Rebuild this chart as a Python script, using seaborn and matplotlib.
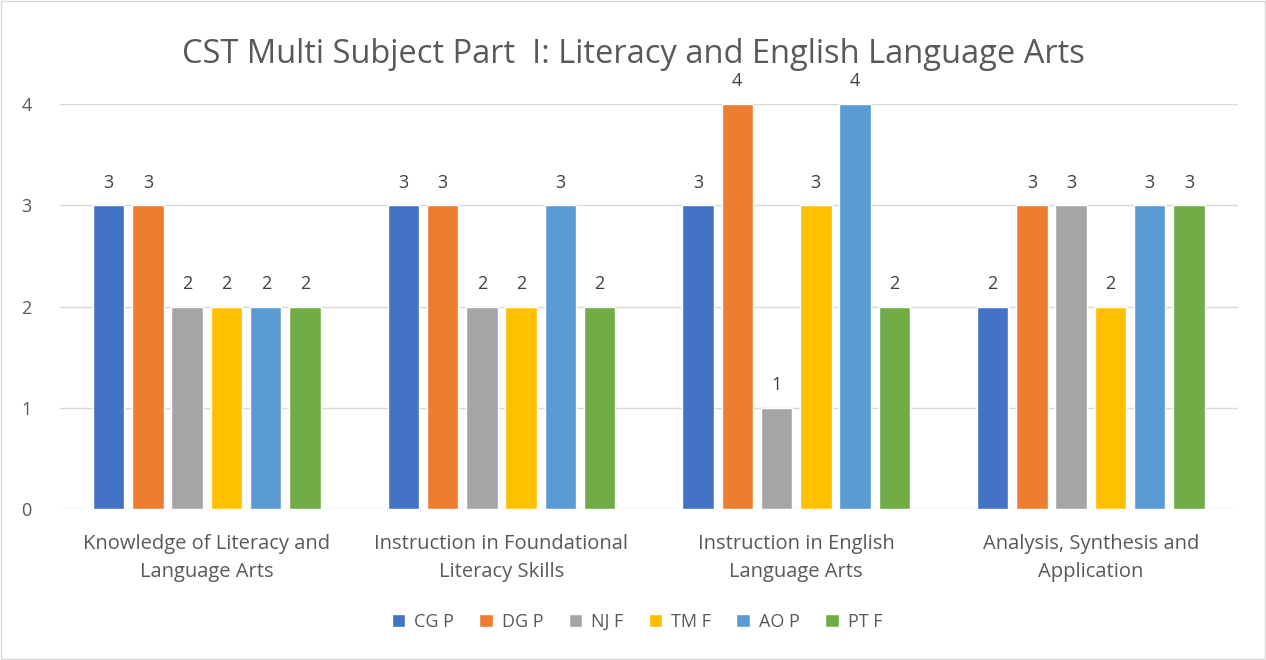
import pandas as pd
import seaborn as sns
import matplotlib
matplotlib.use('Agg')
import matplotlib.pyplot as plt
from matplotlib.patches import Rectangle

categories = ["Knowledge of Literacy and\nLanguage Arts",
              "Instruction in Foundational\nLiteracy Skills",
              "Instruction in English\nLanguage Arts",
              "Analysis, Synthesis and\nApplication"]
series = ["CG P", "DG P", "NJ F", "TM F", "AO P", "PT F"]
cg_p = [3, 3, 3, 2]
dg_p = [3, 3, 4, 3]
nj_f = [2, 2, 1, 3]
tm_f = [2, 2, 3, 2]
ao_p = [2, 3, 4, 3]
pt_f = [2, 2, 2, 3]
colors = ["#4472C4", "#ED7D31", "#A5A5A5", "#FFC000", "#5B9BD5", "#70AD47"]

values = [cg_p, dg_p, nj_f, tm_f, ao_p, pt_f]
rows = []
for name, vals in zip(series, values):
    for cat, v in zip(categories, vals):
        rows.append({"Category": cat, "Series": name, "Value": v})
df = pd.DataFrame(rows)

sns.set_style("white")
plt.rcParams['font.family'] = ['Open Sans', 'DejaVu Sans']
text_color = "#595959"

fig = plt.figure(figsize=(12.66, 6.6), dpi=100)
ax = fig.add_axes([0.047, 0.229, 0.931, 0.613])
sns.barplot(data=df, x="Category", y="Value", hue="Series",
            palette=colors, saturation=1, width=0.8, gap=0.2, ax=ax, legend=True)

for cont in ax.containers:
    ax.bar_label(cont, padding=10, fontsize=13, color="#404040", clip_on=False)

ax.set_ylim(0, 4)
ax.set_xlim(-0.5, 3.5)
ax.set_yticks([0, 1, 2, 3, 4])
ax.yaxis.grid(True, color="#D9D9D9", linewidth=1)
ax.set_axisbelow(True)
for s in ax.spines.values():
    s.set_visible(False)
ax.tick_params(axis='y', length=0, labelsize=13, labelcolor=text_color, pad=20)
ax.tick_params(axis='x', length=0, labelsize=14.5, labelcolor=text_color, pad=18)
for lbl in ax.get_xticklabels():
    lbl.set_linespacing(1.55)
ax.set_xlabel("")
ax.set_ylabel("")

fig.text(0.5, 0.918, "CST Multi Subject Part  I: Literacy and English Language Arts",
         ha="center", va="center", fontsize=23.5, color=text_color)

handles, labels = ax.get_legend_handles_labels()
ax.legend(handles, labels, loc="center", bbox_to_anchor=(0.503, 0.0575),
          bbox_transform=fig.transFigure, ncol=6, frameon=False,
          fontsize=13, labelcolor=text_color, handlelength=0.75,
          handleheight=0.75, handletextpad=0.5, columnspacing=1.4)

fig.patches.append(Rectangle((0.001, 0.001), 0.998, 0.998, transform=fig.transFigure,
                             fill=False, edgecolor="#D9D9D9", linewidth=1))

plt.savefig("out.png", dpi=100)
